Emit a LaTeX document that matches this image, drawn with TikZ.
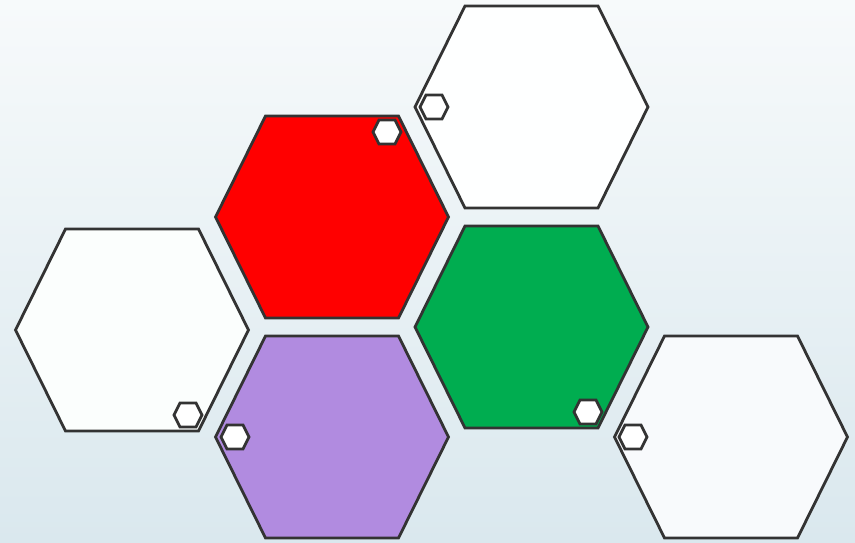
\documentclass[tikz,border=0pt]{standalone}
\usepackage{tikz}
\usetikzlibrary{calc}

\definecolor{edgegray}{RGB}{51,51,51}
\definecolor{cellred}{RGB}{255,0,0}
\definecolor{cellgreen}{RGB}{0,173,80}
\definecolor{cellpurple}{RGB}{177,139,224}
\definecolor{cellwhite}{RGB}{254,255,255}
\definecolor{cellmint}{RGB}{251,254,253}
\definecolor{cellfrost}{RGB}{248,250,252}
\definecolor{bgtop}{RGB}{247,250,251}
\definecolor{bgbottom}{RGB}{218,232,238}

\tikzset{
  cell/.style={draw=edgegray, line width=2.1pt},
  bighex/.pic={
    \path[cell, pic actions] (-116.5,0) -- (-66.5,-101) -- (66.5,-101)
      -- (116.5,0) -- (66.5,101) -- (-66.5,101) -- cycle;
  },
  tinyhex/.pic={
    \path[cell, fill=white, pic actions] (-14,0) -- (-8,-12) -- (8,-12)
      -- (14,0) -- (8,12) -- (-8,12) -- cycle;
  }
}

\begin{document}
\begin{tikzpicture}[x=0.75pt, y=-0.75pt]
  % canvas in pixel units, y running down
  \shade[top color=bgtop, bottom color=bgbottom] (0,0) rectangle (855,542);
  \useasboundingbox (0,0) rectangle (855,542);

  % --- cell centres ---
  \coordinate (topcell)    at (531.5,107);
  \coordinate (redcell)    at (332,217);
  \coordinate (leftcell)   at (132,330);
  \coordinate (greencell)  at (531.5,327);
  \coordinate (purplecell) at (332,437);
  \coordinate (rightcell)  at (731,437);

  % --- large cells ---
  \pic[fill=cellwhite]  at (topcell)    {bighex};
  \pic[fill=cellred]    at (redcell)    {bighex};
  \pic[fill=cellmint]   at (leftcell)   {bighex};
  \pic[fill=cellgreen]  at (greencell)  {bighex};
  \pic[fill=cellpurple] at (purplecell) {bighex};
  \pic[fill=cellfrost]  at (rightcell)  {bighex};

  % --- small markers near a corner of each cell ---
  \pic at ($(topcell)+(-97.5,0)$)      {tinyhex};
  \pic at ($(redcell)+(55,-85)$)       {tinyhex};
  \pic at ($(leftcell)+(56,85)$)       {tinyhex};
  \pic at ($(greencell)+(56.5,85)$)    {tinyhex};
  \pic at ($(purplecell)+(-97,0)$)     {tinyhex};
  \pic at ($(rightcell)+(-98,0)$)      {tinyhex};
\end{tikzpicture}
\end{document}
